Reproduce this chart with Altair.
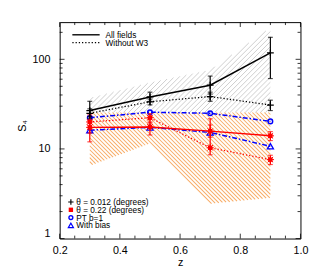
import altair as alt
import pandas as pd
from math import log10

# ---------------- data ----------------
z = [0.3, 0.5, 0.7, 0.9]
# theta = 0.012 degrees
s4_all_012 = [26.8, 38.0, 51.4, 118.0]
s4_all_012_lo = [22.0, 34.0, 41.0, 61.0]
s4_all_012_hi = [34.0, 43.0, 65.0, 176.0]
s4_now3_012 = [25.0, 33.6, 38.4, 30.9]
s4_now3_012_lo = [23.0, 31.0, 34.0, 26.8]
s4_now3_012_hi = [28.0, 36.0, 43.0, 35.0]
# theta = 0.22 degrees
s4_all_022 = [17.4, 17.6, 15.8, 14.0]
s4_all_022_lo = [12.0, 14.3, 13.5, 12.4]
s4_all_022_hi = [21.0, 20.0, 18.5, 15.6]
s4_now3_022 = [20.0, 22.3, 10.3, 7.6]
s4_now3_022_lo = [15.0, 19.5, 8.6, 6.7]
s4_now3_022_hi = [24.0, 24.7, 21.7, 8.5]
# predictions
pt_b1 = [22.3, 25.7, 25.0, 20.3]
with_bias = [16.2, 17.4, 15.3, 10.7]
# hatched ranges
gray_lo = [25.5, 25.5, 25.5, 25.5]
gray_hi = [37.0, 55.0, 76.0, 225.0]
orange_lo = [6.5, 11.5, 2.45, 2.85]
orange_hi = [25.5, 25.5, 25.5, 25.5]

x_major = [0.2, 0.4, 0.6, 0.8, 1.0]
x_minor = [0.25, 0.3, 0.35, 0.45, 0.5, 0.55, 0.65, 0.7, 0.75, 0.85, 0.9, 0.95]
y_major = [1, 10, 100]
y_minor = [2, 3, 4, 5, 6, 7, 8, 9, 20, 30, 40, 50, 60, 70, 80, 90, 200]

line_legend = ["All fields", "Without W3"]
point_legend = ["θ = 0.012 (degrees)", "θ = 0.22 (degrees)", "PT b=1", "With bias"]

# ---------------- layout / style ----------------
W, H = 247, 222
XMIN, XMAX = 0.2, 1.0
YMIN, YMAX = 1, 260
FONT = "Liberation Sans"
RED = "#ff0000"
BLUE = "#0000ff"

xscale = alt.Scale(domain=[XMIN, XMAX], nice=False, zero=False)
yscale = alt.Scale(type="log", domain=[YMIN, YMAX], nice=False)

x_axis = alt.Axis(values=x_major, format=".1f", tickSize=0, domain=False, grid=False,
                  labelFontSize=11, labelPadding=6, labelFlush=False, labelFont=FONT,
                  labelColor="black", title="z", titleFont=FONT, titleFontSize=11,
                  titleFontWeight="normal", titleColor="black", titlePadding=2)
y_axis = alt.Axis(values=y_major, format="d", tickSize=0, domain=False, grid=False,
                  labelFontSize=11, labelPadding=10, labelFlush=True, labelFont=FONT,
                  labelColor="black", title="S₄", titleFont=FONT, titleFontSize=11,
                  titleFontWeight="normal", titleColor="black", titleX=-38, titleY=H / 2 - 5,
                  titleAlign="center", titleBaseline="middle")


def X(f):
    return alt.X(f"{f}:Q", scale=xscale, axis=x_axis)


def Y(f):
    return alt.Y(f"{f}:Q", scale=yscale, axis=y_axis)


LY = log10(YMAX) - log10(YMIN)


def px_x(v):
    return W * (v - XMIN) / (XMAX - XMIN)


def px_y(v):
    return H * (1 - (log10(v) - log10(YMIN)) / LY)


def inv_x(p):
    return XMIN + p / W * (XMAX - XMIN)


def inv_y(p):
    return 10 ** (log10(YMIN) + (1 - p / H) * LY)


def pos_interval(xa, xb, fa, fb):
    """sub-interval of [xa, xb] where the linear f >= 0"""
    if fa >= 0 and fb >= 0:
        return (xa, xb)
    if fa < 0 and fb < 0:
        return None
    xr = xa + (xb - xa) * fa / (fa - fb)
    return (xa, xr) if fa >= 0 else (xr, xb)


def hatch_segments(zs, lo, hi, slope, step):
    """diagonal hatch lines y = slope*x + c (pixel space) clipped to the band lo..hi"""
    xs = [px_x(v) for v in zs]
    ups = [px_y(v) for v in hi]
    lows = [px_y(v) for v in lo]
    cands = []
    for x, u, l in zip(xs, ups, lows):
        cands += [u - slope * x, l - slope * x]
    cmin, cmax = min(cands), max(cands)
    rows = []
    c = cmin + step / 2
    while c < cmax:
        segs = []
        for k in range(len(xs) - 1):
            xa, xb = xs[k], xs[k + 1]
            f1a = slope * xa + c - ups[k]
            f1b = slope * xb + c - ups[k + 1]
            f2a = lows[k] - slope * xa - c
            f2b = lows[k + 1] - slope * xb - c
            i1 = pos_interval(xa, xb, f1a, f1b)
            i2 = pos_interval(xa, xb, f2a, f2b)
            if i1 is None or i2 is None:
                continue
            s, e = max(i1[0], i2[0]), min(i1[1], i2[1])
            if e - s <= 1e-6:
                continue
            if segs and abs(segs[-1][1] - s) < 1e-6:
                segs[-1] = (segs[-1][0], e)
            else:
                segs.append((s, e))
        for s, e in segs:
            rows.append({"z1": inv_x(s), "v1": inv_y(slope * s + c),
                         "z2": inv_x(e), "v2": inv_y(slope * e + c)})
        c += step
    return pd.DataFrame(rows)


layers = []

# hatched regions
gray_hatch = hatch_segments(z, gray_lo, gray_hi, -1, 5.2)
orange_hatch = hatch_segments(z, orange_lo, orange_hi, 1, 4.1)
layers.append(alt.Chart(gray_hatch).mark_rule(color="#c8c8c8", strokeWidth=0.9).encode(
    x=X("z1"), x2="z2", y=Y("v1"), y2="v2"))
layers.append(alt.Chart(orange_hatch).mark_rule(color="#f8ac66", strokeWidth=1.05).encode(
    x=X("z1"), x2="z2", y=Y("v1"), y2="v2"))


# frame ticks (inward)
def tick_rules(vals, axis, length):
    df = pd.DataFrame({"t": vals})
    out = []
    if axis == "x":
        for ya, yb in [(H, H - length), (0, length)]:
            out.append(alt.Chart(df).mark_rule(color="black", strokeWidth=0.8).encode(
                x=X("t"), y=alt.value(ya), y2=alt.value(yb)))
    else:
        for xa, xb in [(0, length), (W, W - length)]:
            out.append(alt.Chart(df).mark_rule(color="black", strokeWidth=0.8).encode(
                y=Y("t"), x=alt.value(xa), x2=alt.value(xb)))
    return out


layers += tick_rules(x_major, "x", 5)
layers += tick_rules(x_minor, "x", 3)
layers += tick_rules(y_major, "y", 5)
layers += tick_rules(y_minor, "y", 3)

PLUS = "M-1,0H1M0,-1V1"
STAR = "M-1,0H1M0,-1V1M-0.75,-0.75L0.75,0.75M-0.75,0.75L0.75,-0.75"
DASHDOT = [5, 2, 1.5, 2]
DOT = [1.3, 2]


def series(vals, lo, hi, color, dash, width):
    df = pd.DataFrame({"z": z, "v": vals})
    out = []
    kw = dict(color=color, strokeWidth=width)
    if dash:
        kw["strokeDash"] = dash
    out.append(alt.Chart(df).mark_line(**kw).encode(x=X("z"), y=Y("v")))
    if lo is not None:
        edf = pd.DataFrame({"z": z, "lo": lo, "hi": hi})
        out.append(alt.Chart(edf).mark_rule(color=color, strokeWidth=1.2).encode(
            x=X("z"), y=Y("lo"), y2="hi"))
        for f in ["lo", "hi"]:
            out.append(alt.Chart(edf).mark_tick(orient="horizontal", size=5, thickness=1.2,
                                                color=color).encode(x=X("z"), y=Y(f)))
    return out, df


def markers(df, kind):
    out = []
    if kind == "plus":
        out.append(alt.Chart(df).mark_point(shape=PLUS, filled=False, size=49, strokeWidth=1.3,
                                            color="black", opacity=1).encode(x=X("z"), y=Y("v")))
    elif kind == "star":
        out.append(alt.Chart(df).mark_point(shape="square", filled=True, size=20, color=RED,
                                            opacity=1).encode(x=X("z"), y=Y("v")))
        out.append(alt.Chart(df).mark_point(shape=STAR, filled=False, size=56, strokeWidth=1,
                                            color=RED, opacity=1).encode(x=X("z"), y=Y("v")))
    elif kind == "circle":
        out.append(alt.Chart(df).mark_point(shape="circle", filled=False, size=22, strokeWidth=1.5,
                                            color=BLUE, opacity=1).encode(x=X("z"), y=Y("v")))
    elif kind == "triangle":
        out.append(alt.Chart(df).mark_point(shape="triangle-up", filled=False, size=40,
                                            strokeWidth=1.3, color=BLUE, opacity=1).encode(
            x=X("z"), y=Y("v")))
    return out


specs = [
    (pt_b1, None, None, BLUE, DASHDOT, 1.5, "circle"),
    (with_bias, None, None, BLUE, DASHDOT, 1.5, "triangle"),
    (s4_now3_022, s4_now3_022_lo, s4_now3_022_hi, RED, DOT, 1.3, "star"),
    (s4_all_022, s4_all_022_lo, s4_all_022_hi, RED, None, 1.5, "star"),
    (s4_now3_012, s4_now3_012_lo, s4_now3_012_hi, "black", DOT, 1.3, "plus"),
    (s4_all_012, s4_all_012_lo, s4_all_012_hi, "black", None, 1.5, "plus"),
]
for vals, lo, hi, col, dash, wdt, kind in specs:
    ls, df = series(vals, lo, hi, col, dash, wdt)
    layers += ls
    layers += markers(df, kind)

# ---------------- legends ----------------
one = pd.DataFrame({"a": [0]})
for i, (lab, dash) in enumerate(zip(line_legend, [None, DOT])):
    yy = 13 + 8 * i
    kw = dict(color="black", strokeWidth=1.4 if dash is None else 1.1)
    if dash:
        kw["strokeDash"] = dash
    layers.append(alt.Chart(one).mark_rule(**kw).encode(
        x=alt.value(13), x2=alt.value(41), y=alt.value(yy)))
    layers.append(alt.Chart(one).mark_text(align="left", baseline="middle", fontSize=8.5,
                                           font=FONT, color="black").encode(
        x=alt.value(47), y=alt.value(yy), text=alt.value(lab)))

sym_kw = [
    dict(shape=PLUS, filled=False, size=30, strokeWidth=1.2, color="black"),
    dict(shape="square", filled=True, size=20, color=RED),
    dict(shape="circle", filled=False, size=16, strokeWidth=1.4, color=BLUE),
    dict(shape="triangle-up", filled=False, size=28, strokeWidth=1.2, color=BLUE),
]
for i, (lab, kw) in enumerate(zip(point_legend, sym_kw)):
    yy = 184.5 + 8 * i
    layers.append(alt.Chart(one).mark_point(opacity=1, **kw).encode(
        x=alt.value(11.5), y=alt.value(yy)))
    layers.append(alt.Chart(one).mark_text(align="left", baseline="middle", fontSize=8.5,
                                           font=FONT, color="black").encode(
        x=alt.value(17), y=alt.value(yy), text=alt.value(lab)))

chart = alt.layer(*layers).properties(
    width=W, height=H,
    autosize=alt.AutoSizeParams(type="none"),
    padding={"left": 53, "top": 11, "right": 19, "bottom": 38},
    background="white",
).configure_view(stroke="black", strokeWidth=1)

chart.save("out.html", embed_options={"renderer": "svg", "actions": False})
